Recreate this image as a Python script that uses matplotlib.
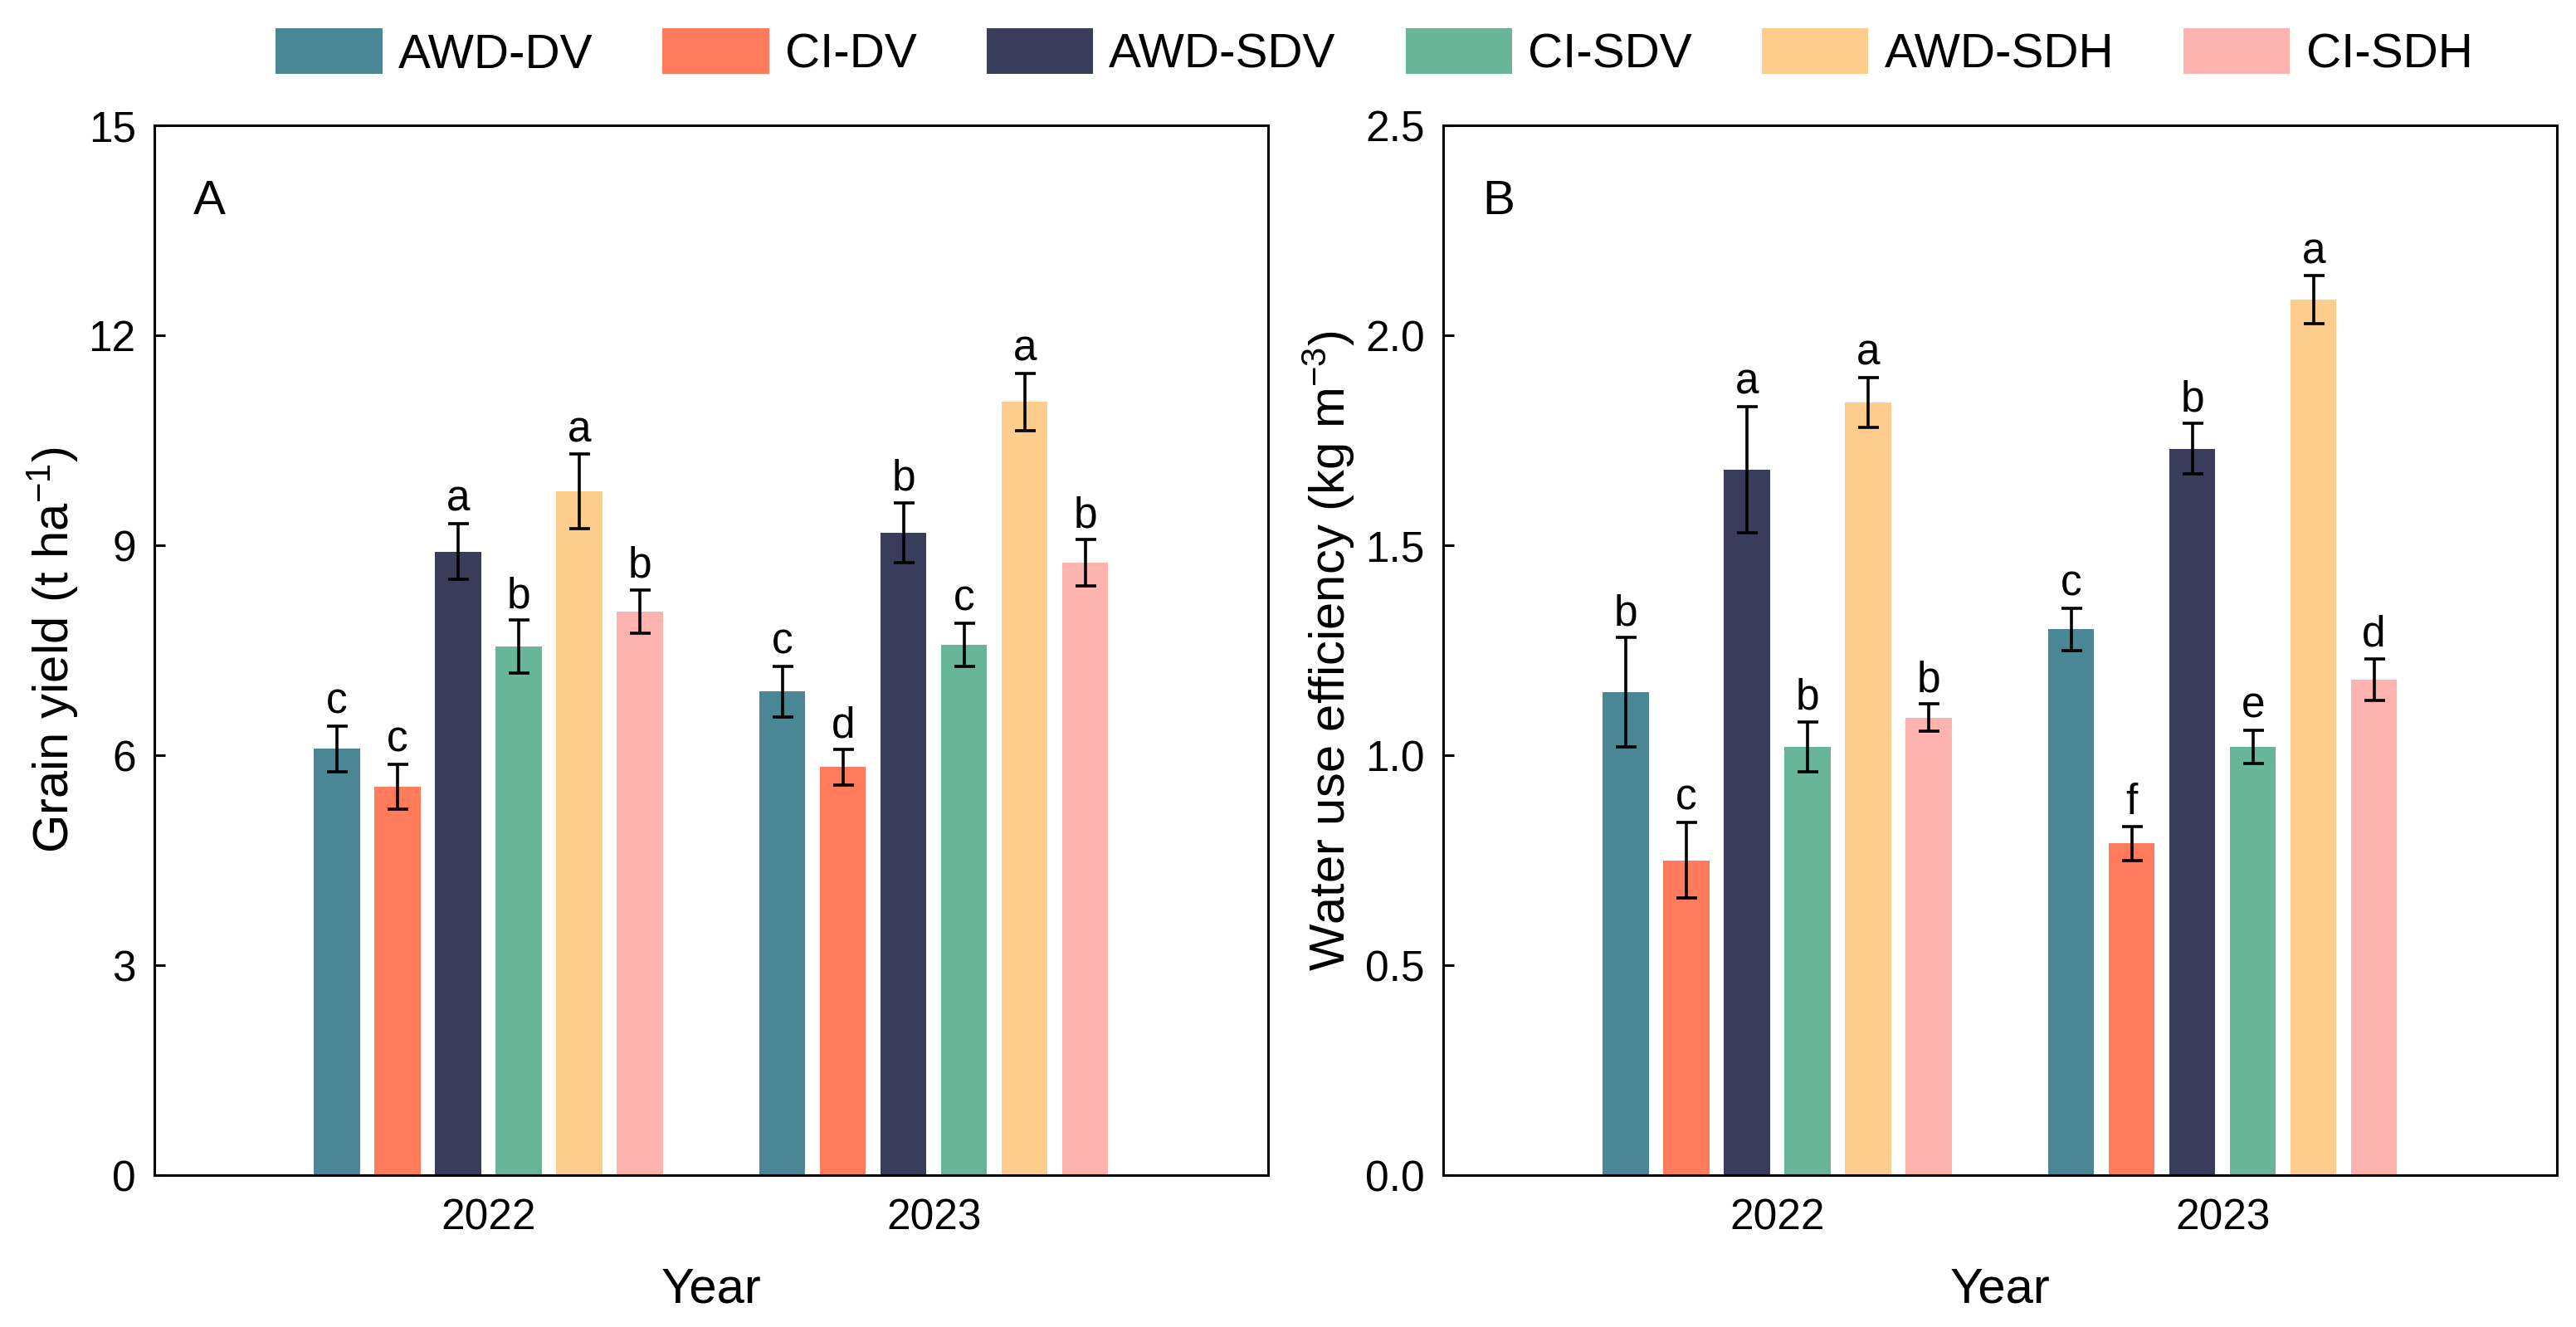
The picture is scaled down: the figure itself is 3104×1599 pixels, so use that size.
"""
Plot grain yield and water use efficiency for the irrigation / sowing treatments.
"""
import numpy as np
import matplotlib
matplotlib.use('Agg')
import matplotlib.pyplot as plt

years = ['2022', '2023']
treatments = ['AWD-DV', 'CI-DV', 'AWD-SDV', 'CI-SDV', 'AWD-SDH', 'CI-SDH']
colors = ['#4B8697', '#FF7B5C', '#3A3C5B', '#68B599', '#FECD8D', '#FEB3AF']

# grain yield (t ha-1), rows = treatments, cols = years
yield_mean = [[6.09, 6.91], [5.55, 5.83], [8.91, 9.18], [7.55, 7.58], [9.77, 11.05], [8.05, 8.75]]
yield_err = [[0.33, 0.36], [0.32, 0.25], [0.40, 0.43], [0.38, 0.31], [0.53, 0.41], [0.31, 0.33]]
yield_letters = [['c', 'c'], ['c', 'd'], ['a', 'b'], ['b', 'c'], ['a', 'a'], ['b', 'b']]

# water use efficiency (kg m-3)
wue_mean = [[1.15, 1.30], [0.75, 0.79], [1.68, 1.73], [1.02, 1.02], [1.84, 2.085], [1.09, 1.18]]
wue_err = [[0.13, 0.05], [0.09, 0.04], [0.15, 0.06], [0.06, 0.04], [0.06, 0.057], [0.032, 0.05]]
wue_letters = [['b', 'c'], ['c', 'f'], ['a', 'b'], ['b', 'e'], ['a', 'a'], ['b', 'd']]


def draw_panel(ax, means, errs, letters, ylim, yticks, ylabel, tag, ytick_fmt):
    x = np.arange(len(years))
    step = 0.136
    width = 0.103
    n = len(treatments)
    for i, name in enumerate(treatments):
        pos = x + (i - (n - 1) / 2) * step
        ax.bar(pos, means[i], width=width, color=colors[i], label=name, zorder=2)
        ax.errorbar(pos, means[i], yerr=errs[i], fmt='none', ecolor='k',
                    elinewidth=1.3, capsize=4.5, capthick=1.3, zorder=3)
        for j in range(len(years)):
            ax.annotate(letters[i][j], (pos[j], means[i][j] + errs[i][j]),
                        xytext=(0, 1.5), textcoords='offset points',
                        ha='center', va='bottom', fontsize=18.5)

    ax.set_xlim(-0.75, 1.75)
    ax.set_ylim(*ylim)
    ax.set_xticks(x)
    ax.set_xticklabels(years)
    ax.set_yticks(yticks)
    ax.set_yticklabels([ytick_fmt.format(t) for t in yticks])
    ax.tick_params(axis='x', length=0, pad=10)
    ax.tick_params(axis='y', direction='in', length=4.7, width=1.1, pad=8)
    ax.set_xlabel('Year', labelpad=12)
    ax.set_ylabel(ylabel, labelpad=3.5)
    for s in ax.spines.values():
        s.set_linewidth(1.1)
    ax.text(0.035, 0.9154, tag, transform=ax.transAxes, fontsize=21, va='baseline')


def main():
    # matplotlib settings
    plt.rc('font', family=['Liberation Sans', 'DejaVu Sans'])
    plt.rc('mathtext', fontset='custom', rm='Liberation Sans', it='Liberation Sans')
    plt.rc('xtick', labelsize=18.5)
    plt.rc('ytick', labelsize=18.5)
    plt.rc('axes', labelsize=21.5)
    plt.rc('legend', fontsize=21)

    fig = plt.figure(figsize=(15.52, 7.995), dpi=200)
    ax1 = fig.add_axes([0.0599, 0.1144, 0.4323, 0.7911])
    ax2 = fig.add_axes([0.5602, 0.1144, 0.4323, 0.7911])

    draw_panel(ax1, yield_mean, yield_err, yield_letters, (0, 15), [0, 3, 6, 9, 12, 15],
               r'Grain yield (t ha$^{-1}$)', 'A', '{:.0f}')
    draw_panel(ax2, wue_mean, wue_err, wue_letters, (0, 2.5), [0, 0.5, 1.0, 1.5, 2.0, 2.5],
               r'Water use efficiency (kg m$^{-3}$)', 'B', '{:.1f}')

    handles, labels = ax1.get_legend_handles_labels()
    fig.legend(handles, labels, loc='center', bbox_to_anchor=(0.5335, 0.96), ncol=6,
               frameon=False, handlelength=2.2, handleheight=1.08, handletextpad=0.33,
               columnspacing=1.44)

    plt.savefig('out.png', dpi=200)


if __name__ == '__main__':
    main()
